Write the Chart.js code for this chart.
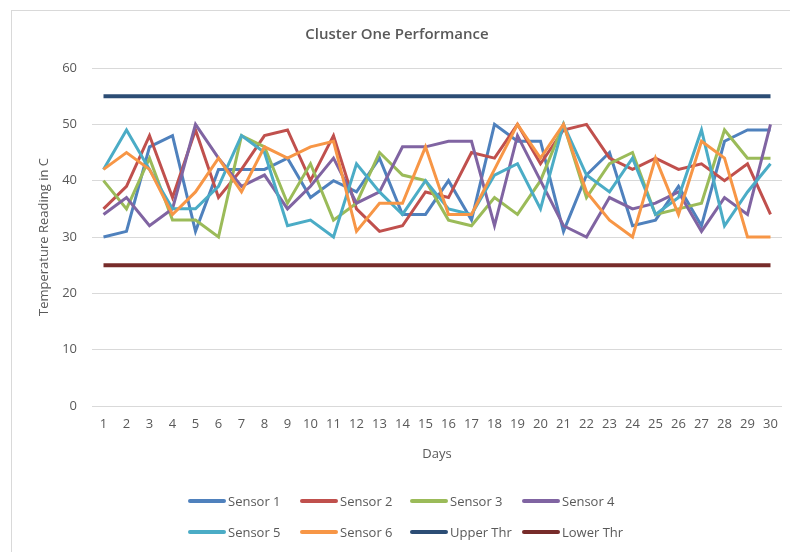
<!DOCTYPE html>
<html lang="en">
<head>
  <meta charset="UTF-8" />
  <title>Cluster One Performance</title>
  <script src="https://cdn.jsdelivr.net/npm/chart.js@4.4.1/dist/chart.umd.min.js"></script>
  <style>
    body { margin: 0; background: #fff; }
    .wrap { position: relative; width: 790px; height: 552px; overflow: hidden; }
    .frame { position: absolute; left: 11px; top: 10px; width: 800px; height: 600px; border: 1px solid #d9d9d9; }
    canvas { position: absolute; left: 0; top: 0; }
    .legend { position: absolute; left: 0; top: 0; width: 790px; height: 552px; pointer-events: none;
      font-family: "Open Sans", sans-serif; font-size: 13px; color: #595959; }
    .legend .item { position: absolute; display: flex; align-items: center; height: 20px; white-space: nowrap; }
    .legend .swatch { width: 38px; height: 4px; border-radius: 2px; margin-right: 2px; }
  </style>
</head>
<body>
  <div class="wrap">
    <div class="frame"></div>
    <canvas id="grafico" width="790" height="552"></canvas>
    <div class="legend" id="legenda"></div>
  </div>
  <script>
    const days = ["1","2","3","4","5","6","7","8","9","10","11","12","13","14","15",
                  "16","17","18","19","20","21","22","23","24","25","26","27","28","29","30"];

    const sensor1 = [30,31,46,48,31,42,42,42,44,37,40,38,44,34,34,40,33,50,47,47,31,41,45,32,33,39,32,47,49,49];
    const sensor2 = [35,39,48,37,49,37,42,48,49,40,48,35,31,32,38,37,45,44,50,43,49,50,44,42,44,42,43,40,43,34];
    const sensor3 = [40,35,44,33,33,30,48,46,36,43,33,36,45,41,40,33,32,37,34,40,50,37,43,45,34,35,36,49,44,44];
    const sensor4 = [34,37,32,35,50,44,39,41,35,39,44,36,38,46,46,47,47,32,48,40,32,30,37,35,36,38,31,37,34,50];
    const sensor5 = [42,49,42,35,35,39,48,45,32,33,30,43,38,34,40,35,34,41,43,35,50,41,38,44,34,37,49,32,38,43];
    const sensor6 = [42,45,42,34,38,44,38,46,44,46,47,31,36,36,46,34,34,42,50,44,50,38,33,30,44,34,47,44,30,30];
    const upperThr = [55,55,55,55,55,55,55,55,55,55,55,55,55,55,55,55,55,55,55,55,55,55,55,55,55,55,55,55,55,55];
    const lowerThr = [25,25,25,25,25,25,25,25,25,25,25,25,25,25,25,25,25,25,25,25,25,25,25,25,25,25,25,25,25,25];

    const yTicks = [0, 10, 20, 30, 40, 50, 60];

    const series = [
      { label: "Sensor 1", data: sensor1, color: "#4F81BD", width: 3 },
      { label: "Sensor 2", data: sensor2, color: "#C0504D", width: 3 },
      { label: "Sensor 3", data: sensor3, color: "#9BBB59", width: 3 },
      { label: "Sensor 4", data: sensor4, color: "#8064A2", width: 3 },
      { label: "Sensor 5", data: sensor5, color: "#4BACC6", width: 3 },
      { label: "Sensor 6", data: sensor6, color: "#F79646", width: 3 },
      { label: "Upper Thr", data: upperThr, color: "#2C4D75", width: 4 },
      { label: "Lower Thr", data: lowerThr, color: "#772C2A", width: 4 }
    ];

    const textColor = "#595959";
    const gridColor = "#d9d9d9";
    const fontFamily = "'Open Sans', sans-serif";

    const ctx = document.getElementById("grafico").getContext("2d");

    const chart = new Chart(ctx, {
      type: "line",
      data: {
        labels: days,
        datasets: series.map((s, i) => ({
          label: s.label,
          data: s.data,
          borderColor: s.color,
          backgroundColor: s.color,
          borderWidth: s.width,
          pointRadius: 0,
          tension: 0,
          fill: false,
          // excel draws later series on top
          order: series.length - i
        }))
      },
      options: {
        responsive: false,
        animation: false,
        layout: { padding: { left: 12, right: 8, top: 0, bottom: 76 } },
        plugins: {
          legend: { display: false },
          tooltip: { enabled: false },
          title: {
            display: true,
            text: "Cluster One Performance",
            color: textColor,
            font: { family: fontFamily, size: 15, weight: "600" },
            padding: { top: 26, bottom: 24 }
          }
        },
        scales: {
          x: {
            offset: true,
            grid: { display: false, drawTicks: false },
            border: { display: false },
            ticks: {
              color: textColor,
              font: { family: fontFamily, size: 13 },
              padding: 10,
              maxRotation: 0,
              autoSkip: false
            },
            title: {
              display: true,
              text: "Days",
              color: textColor,
              font: { family: fontFamily, size: 13 },
              padding: { top: 0, bottom: 14 }
            },
            afterFit: (scale) => { scale.height = 70; }
          },
          y: {
            min: 0,
            max: 60,
            afterBuildTicks: (scale) => { scale.ticks = yTicks.map(v => ({ value: v })); },
            grid: { color: gridColor, lineWidth: 1, drawTicks: false },
            border: { display: false },
            ticks: {
              color: textColor,
              font: { family: fontFamily, size: 13 },
              padding: 15
            },
            title: {
              display: true,
              text: "Temperature Reading in C",
              color: textColor,
              font: { family: fontFamily, size: 13 },
              padding: { top: 24, bottom: 0 }
            },
            afterFit: (scale) => { scale.width = 80; }
          }
        }
      }
    });

    // legend in two rows of four, like the excel one
    const legenda = document.getElementById("legenda");
    const colX = [188, 300, 410, 522];
    const rowY = [491, 522];
    series.forEach((s, i) => {
      const item = document.createElement("div");
      item.className = "item";
      item.style.left = colX[i % 4] + "px";
      item.style.top = rowY[Math.floor(i / 4)] + "px";
      item.innerHTML = `<span class="swatch" style="background:${s.color}"></span><span>${s.label}</span>`;
      legenda.appendChild(item);
    });
  </script>
</body>
</html>
